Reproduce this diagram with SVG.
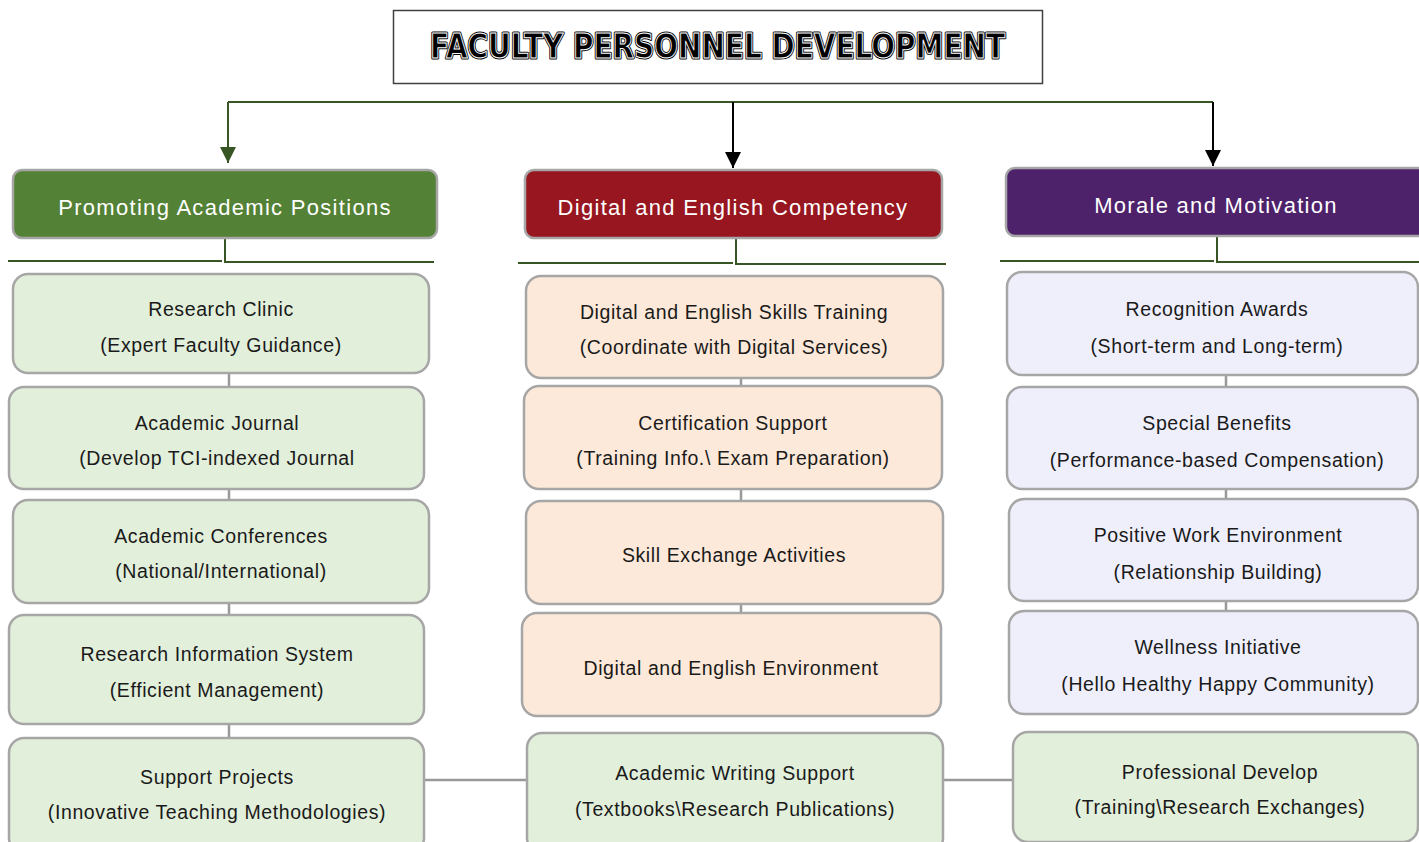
<svg xmlns="http://www.w3.org/2000/svg" width="1419" height="842" viewBox="0 0 1419 842">
<defs>
<style>
.hdr{stroke:#a6a6a6;stroke-width:2.5}
.box{stroke:#a6a6a6;stroke-width:2.5}
.g{fill:#e2efda}
.p{fill:#fde9d9}
.l{fill:#efeffc}
.ht{font-family:"Liberation Sans",Arial,sans-serif;font-size:22px;fill:#ffffff;text-anchor:middle;letter-spacing:1.3px}
.bt{font-family:"Liberation Sans",Arial,sans-serif;font-size:19.5px;fill:#1a1a1a;text-anchor:middle;letter-spacing:0.6px}
.gl{stroke:#375623;stroke-width:2;fill:none}
.bl{stroke:#000000;stroke-width:2;fill:none}
.cn{stroke:#999999;stroke-width:2.5;fill:none}
.title{font-family:"DejaVu Sans",sans-serif;font-weight:bold;font-size:33px}
</style>
<marker id="ag" viewBox="0 0 10 10" refX="10" refY="5" markerWidth="16" markerHeight="16" markerUnits="userSpaceOnUse" orient="auto">
<path d="M0,0 L10,5 L0,10 z" fill="#375623"/>
</marker>
<marker id="ab" viewBox="0 0 10 10" refX="10" refY="5" markerWidth="16" markerHeight="16" markerUnits="userSpaceOnUse" orient="auto">
<path d="M0,0 L10,5 L0,10 z" fill="#000000"/>
</marker>
</defs>
<rect width="1419" height="842" fill="#ffffff"/>

<g id="title">
<rect x="393.5" y="10.5" width="649" height="73" fill="#ffffff" stroke="#404040" stroke-width="1.5"/>
<text class="title" x="430" y="58" textLength="575" lengthAdjust="spacingAndGlyphs" fill="#000000" stroke="#000000" stroke-width="3" stroke-linejoin="round">FACULTY PERSONNEL DEVELOPMENT</text>
<text class="title" x="430" y="58" textLength="575" lengthAdjust="spacingAndGlyphs" fill="none" stroke="#ffffff" stroke-width="1">FACULTY PERSONNEL DEVELOPMENT</text>
</g>

<g id="connectors">
<path class="gl" d="M228,102 H1213"/>
<path class="gl" d="M228,102 V163" marker-end="url(#ag)"/>
<path class="bl" d="M733,102 V168" marker-end="url(#ab)"/>
<path class="bl" d="M1213,102 V166" marker-end="url(#ab)"/>
<path class="gl" d="M225,238 V262 H434 M8,261 H222"/>
<path class="gl" d="M736,239 V264 H946 M518,263 H733"/>
<path class="gl" d="M1217,237 V262 H1419 M1000,261 H1214"/>
<path class="cn" d="M229,373 V387 M229,489 V500 M229,603 V615 M229,724 V738"/>
<path class="cn" d="M741,378 V386 M741,489 V501 M741,604 V613"/>
<path class="cn" d="M1226,375 V387 M1226,489 V499 M1226,601 V611"/>
<path class="cn" d="M424,780 H527 M943,780 H1013" stroke-width="3"/>
</g>

<g id="h1"><rect class="hdr" x="13" y="170" width="424" height="68" rx="9" fill="#538135"/><text class="ht" x="225" y="215">Promoting Academic Positions</text></g>
<g id="h2"><rect class="hdr" x="525" y="170" width="417" height="68" rx="9" fill="#971620"/><text class="ht" x="733" y="215">Digital and English Competency</text></g>
<g id="h3"><rect class="hdr" x="1006" y="168" width="422" height="68" rx="9" fill="#4e216b"/><text class="ht" x="1216" y="213">Morale and Motivation</text></g>

<g id="g1"><rect class="box g" x="13" y="274" width="416" height="99" rx="15"/><text class="bt" x="221" y="316">Research Clinic</text><text class="bt" x="221" y="352">(Expert Faculty Guidance)</text></g>
<g id="g2"><rect class="box g" x="9" y="387" width="415" height="102" rx="15"/><text class="bt" x="217" y="430">Academic Journal</text><text class="bt" x="217" y="465">(Develop TCI-indexed Journal</text></g>
<g id="g3"><rect class="box g" x="13" y="500" width="416" height="103" rx="15"/><text class="bt" x="221" y="543">Academic Conferences</text><text class="bt" x="221" y="578">(National/International)</text></g>
<g id="g4"><rect class="box g" x="9" y="615" width="415" height="109" rx="15"/><text class="bt" x="217" y="661">Research Information System</text><text class="bt" x="217" y="697">(Efficient Management)</text></g>
<g id="g5"><rect class="box g" x="9" y="738" width="415" height="115" rx="15"/><text class="bt" x="217" y="784">Support Projects</text><text class="bt" x="217" y="819">(Innovative Teaching Methodologies)</text></g>

<g id="r1"><rect class="box p" x="526" y="276" width="417" height="102" rx="15"/><text class="bt" x="734" y="319">Digital and English Skills Training</text><text class="bt" x="734" y="354">(Coordinate with Digital Services)</text></g>
<g id="r2"><rect class="box p" x="524" y="386" width="418" height="103" rx="15"/><text class="bt" x="733" y="430">Certification Support</text><text class="bt" x="733" y="465">(Training Info.\ Exam Preparation)</text></g>
<g id="r3"><rect class="box p" x="526" y="501" width="417" height="103" rx="15"/><text class="bt" x="734" y="562">Skill Exchange Activities</text></g>
<g id="r4"><rect class="box p" x="522" y="613" width="419" height="103" rx="15"/><text class="bt" x="731" y="675">Digital and English Environment</text></g>
<g id="m5"><rect class="box g" x="527" y="733" width="416" height="120" rx="15"/><text class="bt" x="735" y="780">Academic Writing Support</text><text class="bt" x="735" y="816">(Textbooks\Research Publications)</text></g>

<g id="p1"><rect class="box l" x="1007" y="272" width="411" height="103" rx="15"/><text class="bt" x="1217" y="316">Recognition Awards</text><text class="bt" x="1217" y="353">(Short-term and Long-term)</text></g>
<g id="p2"><rect class="box l" x="1007" y="387" width="411" height="102" rx="15"/><text class="bt" x="1217" y="430">Special Benefits</text><text class="bt" x="1217" y="467">(Performance-based Compensation)</text></g>
<g id="p3"><rect class="box l" x="1009" y="499" width="409" height="102" rx="15"/><text class="bt" x="1218" y="542">Positive Work Environment</text><text class="bt" x="1218" y="579">(Relationship Building)</text></g>
<g id="p4"><rect class="box l" x="1009" y="611" width="409" height="103" rx="15"/><text class="bt" x="1218" y="654">Wellness Initiative</text><text class="bt" x="1218" y="691">(Hello Healthy Happy Community)</text></g>
<g id="p5"><rect class="box g" x="1013" y="732" width="405" height="110" rx="15"/><text class="bt" x="1220" y="779">Professional Develop</text><text class="bt" x="1220" y="814">(Training\Research Exchanges)</text></g>
</svg>
